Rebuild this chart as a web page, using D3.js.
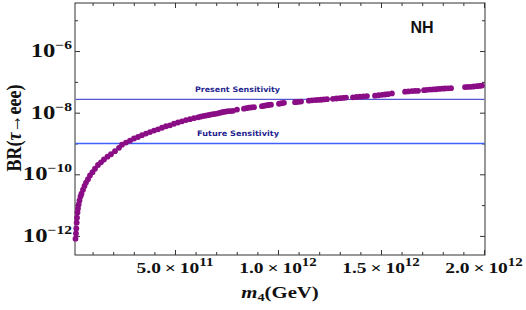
<!DOCTYPE html>
<html><head><meta charset="utf-8">
<script src="https://cdn.jsdelivr.net/npm/d3@7"></script>
<style>body{margin:0;background:#fff}svg{display:block}</style>
</head><body><svg id="c" width="526" height="310"></svg>
<script>
// scatter data: m4 (GeV) and BR(tau -> eee)
const m4 = [1.70e10,1.94e10,2.09e10,2.28e10,2.43e10,2.67e10,2.91e10,3.25e10,3.64e10,4.13e10,
  4.61e10,5.34e10,6.07e10,6.80e10,7.77e10,8.74e10,9.95e10,1.117e11,1.262e11,1.408e11,
  1.553e11,1.723e11,1.893e11,2.087e11,2.282e11,2.427e11,2.621e11,2.816e11,3.010e11,3.204e11,
  3.398e11,3.592e11,3.786e11,3.981e11,4.175e11,4.369e11,4.563e11,4.757e11,4.951e11,5.146e11,
  5.340e11,5.534e11,5.728e11,5.922e11,6.117e11,6.24e11,6.359e11,6.48e11,6.602e11,6.72e11,
  6.845e11,6.97e11,7.087e11,7.21e11,7.330e11,7.45e11,7.573e11,7.70e11,7.816e11,8.010e11,
  8.350e11,8.47e11,8.592e11,8.71e11,8.835e11,9.223e11,9.34e11,9.466e11,9.56e11,9.660e11,
  1.005e12,1.017e12,1.029e12,1.083e12,1.097e12,1.112e12,1.150e12,1.165e12,1.180e12,1.194e12,
  1.209e12,1.223e12,1.238e12,1.267e12,1.284e12,1.301e12,1.316e12,1.330e12,1.364e12,1.381e12,
  1.398e12,1.415e12,1.432e12,1.471e12,1.488e12,1.505e12,1.520e12,1.534e12,1.553e12,1.617e12,
  1.633e12,1.650e12,1.665e12,1.680e12,1.709e12,1.723e12,1.738e12,1.752e12,1.767e12,1.781e12,
  1.796e12,1.810e12,1.825e12,1.840e12,1.908e12,1.922e12,1.937e12,1.951e12,1.966e12,1.978e12,
  1.990e12];
const br = [8.1e-13,1.2e-12,1.74e-12,2.69e-12,3.89e-12,5.75e-12,7.76e-12,1.05e-11,1.41e-11,1.91e-11,
  2.34e-11,3.16e-11,4.17e-11,5.37e-11,6.92e-11,9.12e-11,1.17e-10,1.51e-10,2.0e-10,2.45e-10,
  3.02e-10,3.72e-10,4.47e-10,5.62e-10,7.24e-10,9.12e-10,1.07e-9,1.23e-9,1.45e-9,1.62e-9,
  1.86e-9,2.09e-9,2.34e-9,2.63e-9,2.88e-9,3.24e-9,3.63e-9,3.89e-9,4.37e-9,4.79e-9,
  5.25e-9,5.75e-9,6.17e-9,6.61e-9,7.08e-9,7.4e-9,7.76e-9,8.0e-9,8.32e-9,8.6e-9,
  8.91e-9,9.2e-9,9.55e-9,1.0e-8,1.05e-8,1.08e-8,1.12e-8,1.13e-8,1.15e-8,1.26e-8,
  1.35e-8,1.40e-8,1.45e-8,1.48e-8,1.51e-8,1.62e-8,1.68e-8,1.74e-8,1.78e-8,1.82e-8,
  1.95e-8,2.02e-8,2.09e-8,2.19e-8,2.24e-8,2.29e-8,2.45e-8,2.51e-8,2.57e-8,2.60e-8,
  2.63e-8,2.69e-8,2.75e-8,2.82e-8,2.88e-8,2.95e-8,3.02e-8,3.09e-8,3.16e-8,3.24e-8,
  3.31e-8,3.39e-8,3.47e-8,3.55e-8,3.68e-8,3.80e-8,3.89e-8,3.98e-8,4.2e-8,4.79e-8,
  4.9e-8,5.01e-8,5.07e-8,5.13e-8,5.37e-8,5.5e-8,5.62e-8,5.68e-8,5.75e-8,5.9e-8,
  6.03e-8,6.1e-8,6.17e-8,6.25e-8,6.76e-8,6.84e-8,6.92e-8,7.08e-8,7.24e-8,7.4e-8,
  7.59e-8];
const sensitivityNames = ["Present Sensitivity", "Future Sensitivity"];
const sensitivityValues = [2.7e-8, 1e-9];
const yMajorExps = [-12, -10, -8, -6];
const yMinorExps = [-11, -9, -7, -5];
const xMajorVals = [5e11, 1e12, 1.5e12, 2e12];
const xMantissas = ["5.0", "1.0", "1.5", "2.0"];
const xExponents = ["11", "12", "12", "12"];
const xMinorVals = [1e11,2e11,3e11,4e11,6e11,7e11,8e11,9e11,1.1e12,1.2e12,1.3e12,1.4e12,1.6e12,1.7e12,1.8e12,1.9e12];
const hierarchy = "NH";

const svg = d3.select("#c");
const L = 75, R = 485, T = 3, B = 255;
const x = d3.scaleLinear().domain([1.46e10, 2.005e12]).range([L, R]);
const y = d3.scaleLog().domain([Math.pow(10, -12.62), Math.pow(10, -4.44)]).range([B, T]);
const serif = "'Liberation Serif','Times New Roman',serif";
const SX = 1.3;

function axisG(axis, tx, ty) {
  const g = svg.append("g").attr("transform", `translate(${tx},${ty})`).call(axis);
  g.select(".domain").remove();
  g.selectAll("line").attr("stroke", "#333").attr("stroke-width", 1);
  return g;
}
const yMaj = yMajorExps.map(e => Math.pow(10, e));
const yMin = yMinorExps.map(e => Math.pow(10, e));
axisG(d3.axisBottom(x).tickValues(xMajorVals).tickSize(-5).tickFormat(""), 0, B);
axisG(d3.axisBottom(x).tickValues(xMinorVals).tickSize(-3).tickFormat(""), 0, B);
axisG(d3.axisTop(x).tickValues(xMajorVals).tickSize(-5).tickFormat(""), 0, T);
axisG(d3.axisTop(x).tickValues(xMinorVals).tickSize(-3).tickFormat(""), 0, T);
axisG(d3.axisLeft(y).tickValues(yMaj).tickSize(-5).tickFormat(""), L, 0);
axisG(d3.axisLeft(y).tickValues(yMin).tickSize(-3).tickFormat(""), L, 0);
axisG(d3.axisRight(y).tickValues(yMaj).tickSize(-5).tickFormat(""), R, 0);
axisG(d3.axisRight(y).tickValues(yMin).tickSize(-3).tickFormat(""), R, 0);

svg.append("rect").attr("x", L).attr("y", T).attr("width", R - L).attr("height", B - T)
  .attr("fill", "none").attr("stroke", "#333").attr("stroke-width", 1);

// sensitivity lines
const lineColors = ["#5656d0", "#3f62ff"];
sensitivityValues.forEach((v, i) => {
  svg.append("line").attr("x1", L + 0.5).attr("x2", R - 0.5).attr("y1", y(v)).attr("y2", y(v))
    .attr("stroke", lineColors[i]).attr("stroke-width", 1.4);
});
const labelX = [195, 197], labelW = [85, 82];
sensitivityValues.forEach((v, i) => {
  svg.append("text").attr("x", labelX[i]).attr("y", y(v) - 7)
    .attr("font-family", "'DejaVu Sans',Verdana,sans-serif").attr("font-weight", "bold")
    .attr("font-size", 7.5).attr("fill", "#1f1f90")
    .attr("textLength", labelW[i]).attr("lengthAdjust", "spacingAndGlyphs")
    .text(sensitivityNames[i]);
});

// points
svg.append("g").selectAll("circle").data(m4.map((m, i) => [m, br[i]])).join("circle")
  .attr("cx", d => x(d[0])).attr("cy", d => y(d[1])).attr("r", 2.9)
  .attr("fill", "#8a0d86");

// y tick labels
yMajorExps.forEach(e => {
  const t = svg.append("g").attr("transform", `translate(72,${y(Math.pow(10, e)) + 6}) scale(${SX},1)`)
    .append("text").attr("text-anchor", "end").attr("font-family", serif).attr("font-weight", "bold")
    .attr("font-size", 19).attr("fill", "#111");
  t.append("tspan").text("10");
  t.append("tspan").attr("font-size", 12).attr("dy", -8).text("\u2212" + Math.abs(e));
});
// x tick labels
xMajorVals.forEach((v, i) => {
  const t = svg.append("g").attr("transform", `translate(${x(v)},273) scale(${SX},1)`)
    .append("text").attr("text-anchor", "middle").attr("font-family", serif).attr("font-weight", "bold")
    .attr("font-size", 15).attr("fill", "#111");
  t.append("tspan").text(xMantissas[i] + "\u2009\u00d7\u200910");
  t.append("tspan").attr("font-size", 11.5).attr("dy", -7).text(xExponents[i]);
});
// axis titles
const xt = svg.append("g").attr("transform", `translate(280,298) scale(${SX},1)`)
  .append("text").attr("text-anchor", "middle").attr("font-family", serif).attr("font-weight", "bold")
  .attr("font-size", 16).attr("fill", "#111");
xt.append("tspan").attr("font-style", "italic").text("m");
xt.append("tspan").attr("font-size", 11).attr("dy", 3).text("4");
xt.append("tspan").attr("dy", -3).text("(GeV)");

const yt = svg.append("g").attr("transform", `translate(21,128) scale(1.2,1) rotate(-90)`)
  .append("text").attr("text-anchor", "middle").attr("font-family", serif).attr("font-weight", "bold")
  .attr("font-size", 18).attr("fill", "#111");
yt.append("tspan").text("BR(");
yt.append("tspan").attr("font-style", "italic").text("\u03c4");
yt.append("tspan").text("\u2192eee)");

svg.append("text").attr("x", 422).attr("y", 33).attr("text-anchor", "middle")
  .attr("font-family", "'Liberation Sans',Arial,sans-serif").attr("font-weight", "bold")
  .attr("font-size", 16).attr("fill", "#111").text(hierarchy);
</script></body></html>
